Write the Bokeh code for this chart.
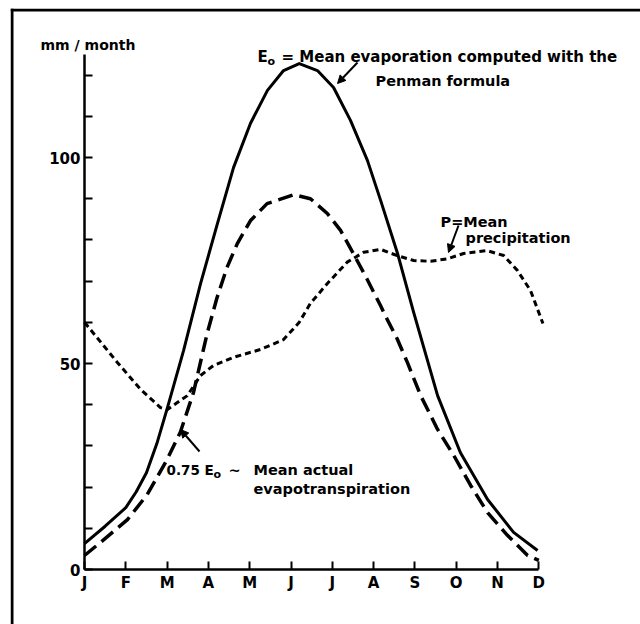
from bokeh.plotting import figure
from bokeh.models import Range1d, LinearAxis, FixedTicker, Span, Label, Arrow, NormalHead
from bokeh.embed import file_html
from bokeh.resources import INLINE

# ---- data (x in months from January = 0) ----
months = ["J", "F", "M", "A", "M", "J", "J", "A", "S", "O", "N", "D"]
month_pos = list(range(12))

t_eo = [0, 0.5, 1.0, 1.25, 1.5, 1.75, 2.0, 2.4, 2.81, 3.22, 3.61, 4.02, 4.43, 4.82, 5.2, 5.64, 6.03, 6.44,
        6.85, 7.17, 7.58, 7.97, 8.55, 9.1, 9.76, 10.39, 10.97]
eo = [6.3, 10.5, 15.0, 18.8, 23.5, 30.5, 39.0, 53.2, 69.4, 84.0, 97.6, 108.3, 116.3, 121.1, 122.8, 121.1, 117.0, 109.0,
      99.3, 89.6, 76.7, 62.4, 42.2, 28.4, 17.0, 9.0, 4.6]

t_et = [0, 0.39, 1.04, 1.52, 2.0, 2.32, 2.64, 2.97, 3.21, 3.45, 3.7, 4.02, 4.42, 5.07, 5.47, 5.88,
        6.2, 6.51, 6.84, 7.17, 7.34, 7.57, 7.82, 8.14, 8.55, 8.94, 9.35, 9.76, 10.24, 10.73, 11.0]
et = [3.4, 6.6, 12.1, 18.2, 26.7, 33.3, 43.0, 57.3, 66.0, 73.3, 79.1, 84.7, 88.8, 91.0, 90.0, 86.4,
      82.3, 76.7, 70.5, 64.0, 60.5, 56.0, 50.2, 42.2, 34.0, 27.7, 20.4, 13.8, 8.3, 3.4, 2.2]

t_p = [0, 0.8, 1.36, 1.84, 2.0, 2.49, 2.81, 3.12, 3.61, 4.26, 4.82, 5.2, 5.47, 5.88, 6.36, 6.76,
       7.17, 7.57, 7.97, 8.38, 8.78, 9.18, 9.75, 10.15, 10.48, 10.8, 11.1]
prec = [60.0, 50.2, 43.7, 39.3, 38.8, 42.2, 47.1, 49.5, 51.5, 53.4, 55.8, 60.0, 64.6, 69.4, 74.6, 77.0,
        77.7, 76.2, 75.0, 74.8, 75.4, 76.7, 77.4, 76.2, 72.6, 67.7, 59.7]

y_major = [0, 50, 100]
y_minor = [10, 20, 30, 40, 60, 70, 80, 90, 110, 120]
y_labels = ["0", "50", "100"]

# ---- pixel helpers for annotation placement ----
def X(px):
    return (px - 84) / 41.3

def Y(py):
    return (569 - py) / 4.12

FONT = "DejaVu Sans"

p = figure(width=640, height=624, output_backend="svg", toolbar_location=None,
           x_axis_type=None, y_axis_type=None,
           x_range=Range1d(X(10), X(640)), y_range=Range1d(Y(624), Y(8)),
           min_border_left=10, min_border_top=8, min_border_right=0, min_border_bottom=0)
p.outline_line_color = None
p.xgrid.visible = False
p.ygrid.visible = False
p.background_fill_color = "white"
p.border_fill_color = "white"

# axes
xa = LinearAxis(fixed_location=0, ticker=FixedTicker(ticks=month_pos),
                major_label_overrides={i: m for i, m in zip(month_pos, months)},
                bounds=(0, 11))
ya = LinearAxis(fixed_location=0, ticker=FixedTicker(ticks=y_major, minor_ticks=y_minor),
                major_label_overrides={v: s for v, s in zip(y_major, y_labels)},
                bounds=(0, 125))
for ax in (xa, ya):
    ax.axis_line_width = 2.5
    ax.axis_line_color = "black"
    ax.major_tick_in = 8
    ax.major_tick_out = 0
    ax.minor_tick_in = 8
    ax.minor_tick_out = 0
    ax.major_tick_line_width = 2
    ax.minor_tick_line_width = 2
    ax.major_tick_line_color = "black"
    ax.minor_tick_line_color = "black"
    ax.major_label_text_font = FONT
    ax.major_label_text_font_style = "bold"
    ax.major_label_text_font_size = "15px"
    ax.major_label_text_color = "black"
xa.major_label_standoff = 4
ya.major_label_standoff = 4
p.add_layout(xa, "below")
p.add_layout(ya, "left")

# frame border (left and top edges)
p.add_layout(Span(location=X(11.5), dimension="height", line_color="black", line_width=3))
p.add_layout(Span(location=Y(9.5), dimension="width", line_color="black", line_width=3))

# curves
p.line(t_eo, eo, line_color="black", line_width=3, line_join="round")
p.line(t_et, et, line_color="black", line_width=3.5, line_dash="15 7", line_join="round")
p.line(t_p, prec, line_color="black", line_width=3, line_dash="6 4", line_join="round")

def lab(px, py, text, size="14.5px"):
    p.add_layout(Label(x=X(px), y=Y(py), text=text, text_font=FONT, text_font_style="bold",
                       text_font_size=size, text_color="black", text_baseline="alphabetic",
                       text_align="left"))

lab(40, 44, "mm / month", "14px")
lab(257, 56, "E", "15px")
lab(267, 61, "o", "11px")
lab(281, 56, "= Mean evaporation computed with the", "15px")
lab(375, 80, "Penman formula")
lab(440, 221, "P=Mean")
lab(465, 237, "precipitation")
lab(166, 469, "0.75 E", "13.5px")
lab(213, 474, "o", "11px")
lab(228, 469, "~")
lab(253, 469, "Mean actual")
lab(253, 488, "evapotranspiration")

def arrow(x0, y0, x1, y1):
    p.add_layout(Arrow(end=NormalHead(size=8, fill_color="black", line_color="black", line_width=1),
                       x_start=X(x0), y_start=Y(y0), x_end=X(x1), y_end=Y(y1),
                       line_color="black", line_width=2))

arrow(357, 62, 337, 83)
arrow(458, 225, 448, 252)
arrow(199, 451, 180, 429)

open("out.html", "w").write(file_html(p, INLINE))
